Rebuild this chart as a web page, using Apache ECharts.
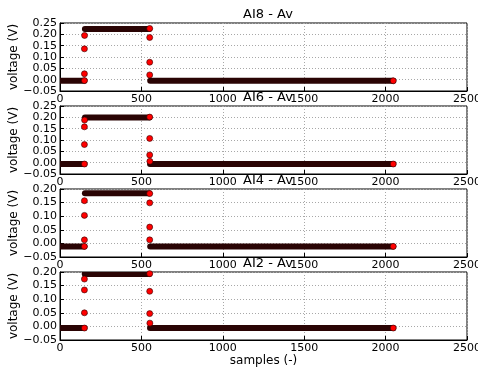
<!DOCTYPE html>
<html><head><meta charset="utf-8">
<script src="https://cdn.jsdelivr.net/npm/echarts@6/dist/echarts.min.js"></script>
<style>html,body{margin:0;padding:0;background:#fff}#c{width:478px;height:371px}</style>
</head><body><div id="c"></div>
<script>
const titles = ['AI8 - Av', 'AI6 - Av', 'AI4 - Av', 'AI2 - Av'];
const yMaxes = [0.25, 0.25, 0.20, 0.20];
const yMin = -0.05, yStep = 0.05;
const xMin = 0, xMax = 2500, xStep = 500;
const xName = 'samples (-)';
const yName = 'voltage (V)';

// dense sample runs (overlapping markers form a band): [startSample, endSample, level]
const ai8Runs = [[0, 150, -0.005], [153, 549, 0.223], [554, 2047, -0.005]];
const ai8Dots = [[150, -0.004], [150, 0.026], [150, 0.136], [151, 0.195], [551, 0.226], [551, 0.186], [551, 0.077], [551, 0.021], [2047, -0.005]];

const ai6Runs = [[0, 150, -0.006], [153, 549, 0.199], [553, 2047, -0.006]];
const ai6Dots = [[150, -0.006], [150, 0.080], [150, 0.158], [151, 0.188], [551, 0.201], [551, 0.107], [551, 0.034], [552, 0.006], [2047, -0.006]];

const ai4Runs = [[0, 150, -0.011], [153, 549, 0.184], [554, 2047, -0.011]];
const ai4Dots = [[150, -0.011], [150, 0.013], [150, 0.103], [150, 0.157], [551, 0.183], [551, 0.149], [551, 0.060], [551, 0.013], [2047, -0.011]];

const ai2Runs = [[0, 150, -0.006], [152, 549, 0.193], [553, 2047, -0.006]];
const ai2Dots = [[150, -0.006], [150, 0.050], [150, 0.134], [150, 0.174], [551, 0.194], [551, 0.129], [551, 0.047], [552, 0.012], [2047, -0.006]];

const allRuns = [ai8Runs, ai6Runs, ai4Runs, ai2Runs];
const allDots = [ai8Dots, ai6Dots, ai4Dots, ai2Dots];

const FONT = 'DejaVu Sans';
const gridTops = [23, 106, 189, 272];
const gridH = 68;
const BAND = 6;
const fmtY = v => (v < -1e-9 ? '\u2212' : '') + Math.abs(v).toFixed(2);
const fmtX = v => String(Math.round(v));

function renderRun(params, api) {
  const a = api.coord([api.value(0), api.value(2)]);
  const b = api.coord([api.value(1), api.value(2)]);
  const cs = params.coordSys;
  return {
    type: 'rect',
    shape: {x: a[0] - BAND / 2, y: a[1] - BAND / 2, width: b[0] - a[0] + BAND, height: BAND, r: BAND / 2},
    style: {fill: '#2a0404', stroke: null, lineDash: null},
    clipPath: {type: 'rect', shape: {x: cs.x, y: cs.y, width: cs.width, height: cs.height}}
  };
}

const grid = [], xAxis = [], yAxis = [], series = [], title = [];
gridTops.forEach((t, i) => {
  grid.push({left: 60, right: 11, top: t, height: gridH, show: true, borderColor: '#000', borderWidth: 1,
    backgroundColor: 'transparent', containLabel: false, outerBoundsMode: 'none'});
  title.push({text: titles[i], left: 263, top: t - 20, textAlign: 'center',
    textStyle: {fontFamily: FONT, fontSize: 13, fontWeight: 'normal', color: '#000'}});
  xAxis.push({type: 'value', gridIndex: i, min: xMin, max: xMax, interval: xStep,
    axisLine: {show: true, onZero: false, lineStyle: {color: '#000'}},
    axisTick: {show: true, inside: true, length: 4, lineStyle: {color: '#000'}},
    axisLabel: {fontFamily: FONT, fontSize: 11, color: '#000', margin: 3, formatter: fmtX},
    splitLine: {show: true, lineStyle: {color: '#a8a8a8', type: [1, 2], width: 1}},
    name: i === 3 ? xName : '', nameLocation: 'middle', nameGap: 15, nameMoveOverlap: false,
    nameTextStyle: {fontFamily: FONT, fontSize: 12, color: '#000'}});
  yAxis.push({type: 'value', gridIndex: i, min: yMin, max: yMaxes[i], interval: yStep,
    axisLine: {show: true, onZero: false, lineStyle: {color: '#000'}},
    axisTick: {show: true, inside: true, length: 4, lineStyle: {color: '#000'}},
    axisLabel: {fontFamily: FONT, fontSize: 11, color: '#000', margin: 3, formatter: fmtY},
    splitLine: {show: true, lineStyle: {color: '#a8a8a8', type: [1, 2], width: 1}},
    name: yName, nameLocation: 'middle', nameGap: 40, nameRotate: 90, nameMoveOverlap: false,
    nameTextStyle: {fontFamily: FONT, fontSize: 12, color: '#000'}});
  series.push({type: 'custom', xAxisIndex: i, yAxisIndex: i, data: allRuns[i], renderItem: renderRun,
    encode: {x: [0, 1], y: 2}, z: 2, animation: false, silent: true});
  series.push({type: 'scatter', xAxisIndex: i, yAxisIndex: i, data: allDots[i], symbolSize: 6, z: 3,
    itemStyle: {color: '#ff0000', borderColor: '#300000', borderWidth: 0.6, opacity: 1}, animation: false, silent: true});
});

const chart = echarts.init(document.getElementById('c'), null, {renderer: 'canvas'});
chart.setOption({animation: false, backgroundColor: '#fff', title, grid, xAxis, yAxis, series});
</script></body></html>
